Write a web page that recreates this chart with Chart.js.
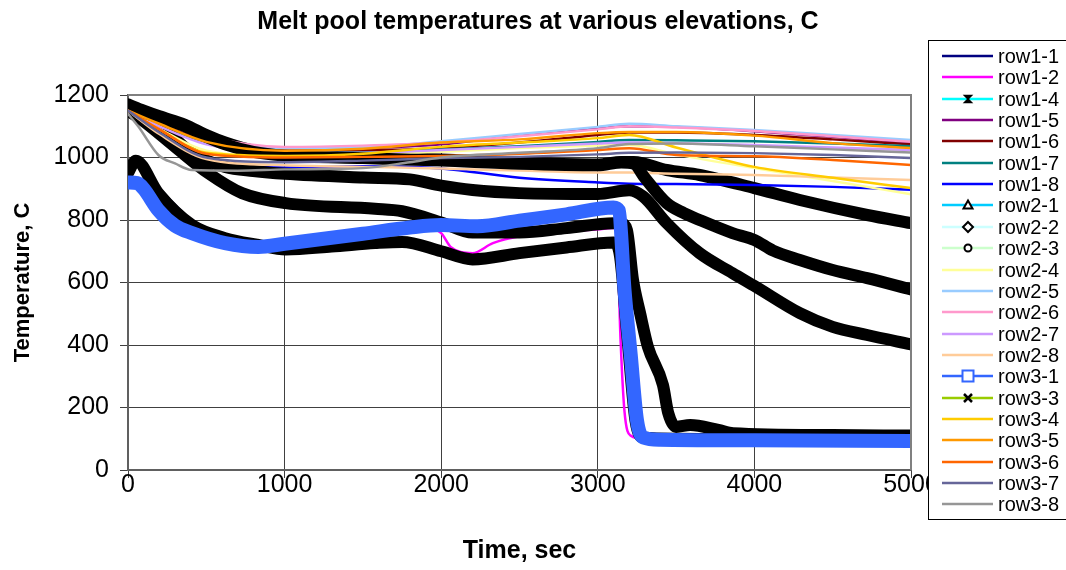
<!DOCTYPE html>
<html><head><meta charset="utf-8">
<script src="https://cdn.jsdelivr.net/npm/chart.js@4.4.1/dist/chart.umd.min.js"></script>
<style>html,body{margin:0;padding:0;background:#fff;}#c{display:block;}</style>
</head><body>
<canvas id="c" width="1066" height="570"></canvas>
<script>
// ---------- DATA ----------
const chartTitle = 'Melt pool temperatures at various elevations, C';
const xTitle = 'Time, sec';
const yTitle = 'Temperature, C';
const xTicks = [0, 1000, 2000, 3000, 4000, 5000];
const yTicks = [0, 200, 400, 600, 800, 1000, 1200];

const tMain = [0, 200, 500, 1000, 1500, 2000, 2500, 3000, 3200, 3500, 4000, 4500, 5000];

const t_row1_1 = [0, 45, 193, 408, 620, 750, 1000, 1500, 1800, 2000, 2200, 2500, 3100, 3140, 3200, 3260, 3400, 5000];
const v_row1_1 = [975, 998, 906, 800, 752, 736, 712, 718, 722, 696, 666, 688, 720, 690, 320, 112, 98, 93];

const t_row1_2 = [0, 100, 300, 600, 1000, 1500, 1900, 2000, 2060, 2200, 2330, 2500, 3000, 3120, 3145, 3170, 3210, 3300, 5000];
const v_row1_2 = [918, 900, 778, 728, 728, 758, 776, 758, 714, 694, 726, 748, 770, 775, 420, 190, 110, 100, 95];

const t_row1_4 = [0, 100, 200, 364, 500, 620, 800, 1000, 1500, 2000, 2500, 3000, 3150, 3230, 3440, 3650, 4000, 4290, 4720, 5000];
const v_row1_4 = [1170, 1150, 1132, 1105, 1072, 1048, 1022, 1010, 1002, 994, 984, 978, 986, 986, 960, 944, 902, 864, 816, 790];

const v_row1_5 = [1155, 1115, 1058, 1028, 1030, 1042, 1072, 1094, 1100, 1098, 1084, 1066, 1048];
const v_row1_6 = [1155, 1112, 1052, 1028, 1024, 1030, 1048, 1072, 1080, 1080, 1072, 1058, 1042];
const v_row1_7 = [1150, 1102, 1046, 1016, 1016, 1026, 1036, 1050, 1056, 1055, 1052, 1045, 1036];
const v_row1_8 = [1150, 1065, 985, 968, 972, 965, 935, 920, 916, 915, 912, 906, 897];

const t_row2_1 = [0, 50, 193, 408, 620, 833, 1007, 1300, 1577, 1750, 2000, 2200, 2500, 2800, 3100, 3140, 3190, 3240, 3290, 3500, 4000, 5000];
const v_row2_1 = [950, 990, 886, 784, 742, 720, 706, 715, 726, 730, 700, 674, 694, 712, 728, 690, 420, 160, 104, 100, 97, 95];

const t_row2_2 = [0, 89, 300, 512, 728, 1007, 1577, 1750, 2000, 2200, 2500, 2800, 3100, 3150, 3186, 3225, 3270, 3320, 3416, 3450, 3500, 3590, 3770, 3864, 4500, 5000];
const v_row2_2 = [1150, 1120, 1034, 950, 886, 854, 836, 828, 792, 760, 760, 774, 790, 790, 768, 608, 502, 394, 272, 182, 138, 144, 128, 118, 112, 110];

const t_row2_3 = [0, 150, 300, 408, 620, 800, 1000, 1500, 1800, 2000, 2200, 2500, 3000, 3200, 3290, 3440, 3650, 3860, 4010, 4290, 4500, 4720, 5000];
const v_row2_3 = [1155, 1128, 1060, 1014, 970, 957, 948, 936, 930, 910, 896, 886, 883, 895, 875, 790, 694, 630, 586, 502, 458, 432, 402];

const v_row2_4 = [1150, 1092, 1022, 1005, 1010, 1018, 1030, 1038, 1040, 1010, 966, 925, 882];
const v_row2_5 = [1160, 1118, 1062, 1030, 1032, 1052, 1075, 1098, 1108, 1100, 1088, 1072, 1056];
const v_row2_6 = [1160, 1122, 1068, 1034, 1038, 1048, 1068, 1090, 1100, 1096, 1085, 1068, 1050];
const v_row2_7 = [1150, 1100, 1042, 1015, 1015, 1024, 1034, 1045, 1048, 1046, 1040, 1032, 1024];
const v_row2_8 = [1150, 1075, 995, 975, 970, 965, 958, 952, 952, 948, 944, 936, 928];

const t_row3_1 = [0, 60, 100, 193, 300, 408, 620, 833, 1000, 1500, 1800, 2000, 2230, 2500, 2800, 3100, 3135, 3170, 3210, 3250, 3290, 3400, 4000, 5000];
const v_row3_1 = [920, 918, 900, 832, 782, 758, 726, 714, 724, 756, 776, 784, 780, 798, 818, 840, 830, 580, 370, 160, 104, 97, 95, 93];

const t_row3_3 = [0, 100, 200, 364, 500, 620, 800, 1000, 1500, 2000, 2500, 3000, 3150, 3230, 3300, 3440, 3550, 3650, 3860, 4000, 4120, 4290, 4500, 4720, 5000];
const v_row3_3 = [1160, 1145, 1128, 1100, 1066, 1042, 1018, 1006, 998, 990, 980, 975, 984, 980, 935, 854, 822, 800, 758, 736, 702, 672, 640, 614, 578];

const v_row3_4 = [1150, 1090, 1015, 1005, 1012, 1034, 1048, 1062, 1072, 1032, 970, 935, 902];
const v_row3_5 = [1150, 1108, 1050, 1022, 1028, 1048, 1058, 1078, 1082, 1082, 1070, 1046, 1030];
const v_row3_6 = [1150, 1090, 1012, 1000, 1002, 1005, 1012, 1024, 1030, 1008, 1004, 992, 976];
const v_row3_7 = [1150, 1080, 1000, 985, 990, 998, 1002, 1010, 1015, 1016, 1014, 1008, 998];
const t_row3_8 = [0, 66, 194, 300, 407, 700, 1000, 1500, 1800, 2000, 2500, 3000, 3200, 3500, 4000, 4500, 5000];
const v_row3_8 = [1140, 1099, 1008, 981, 960, 958, 962, 966, 985, 1000, 1015, 1030, 1043, 1045, 1036, 1026, 1016];

const seriesNames = ['row1-1','row1-2','row1-4','row1-5','row1-6','row1-7','row1-8','row2-1','row2-2','row2-3','row2-4','row2-5','row2-6','row2-7','row2-8','row3-1','row3-3','row3-4','row3-5','row3-6','row3-7','row3-8'];
const seriesTimes = [t_row1_1, t_row1_2, t_row1_4, tMain, tMain, tMain, tMain, t_row2_1, t_row2_2, t_row2_3, tMain, tMain, tMain, tMain, tMain, t_row3_1, t_row3_3, tMain, tMain, tMain, tMain, t_row3_8];
const seriesValues = [v_row1_1, v_row1_2, v_row1_4, v_row1_5, v_row1_6, v_row1_7, v_row1_8, v_row2_1, v_row2_2, v_row2_3, v_row2_4, v_row2_5, v_row2_6, v_row2_7, v_row2_8, v_row3_1, v_row3_3, v_row3_4, v_row3_5, v_row3_6, v_row3_7, v_row3_8];

// ---------- STYLES ----------
const lineColors = ['#000080','#FF00FF','#00FFFF','#800080','#800000','#008080','#0000FF','#00CCFF','#CCFFFF','#CCFFCC','#FFFF99','#99CCFF','#FF99CC','#CC99FF','#FFCC99','#3366FF','#99CC00','#FFCC00','#FF9900','#FF6600','#666699','#969696'];
const markers = [null,null,'star',null,null,null,null,'triangle','diamond','circle',null,null,null,null,null,'square','cross',null,null,null,null,null];
const FONT = "'Liberation Sans', Arial, Helvetica, sans-serif";

const datasets = seriesNames.map((name, i) => {
  const m = markers[i];
  const band = m ? (m === 'square' ? '#3366FF' : '#000000') : lineColors[i];
  const w = m ? (m === 'square' ? 14 : 12) : 2.5;
  return {
    label: name,
    data: seriesTimes[i].map((t, k) => ({x: t, y: seriesValues[i][k]})),
    borderColor: band,
    backgroundColor: band,
    borderWidth: w,
    pointRadius: 0,
    pointHoverRadius: 0,
    cubicInterpolationMode: 'monotone',
    borderJoinStyle: 'round',
    borderCapStyle: 'round',
    fill: false,
    order: seriesNames.length - i
  };
});

function drawMarker(ctx, kind, x, y) {
  ctx.save();
  ctx.lineWidth = 2;
  ctx.strokeStyle = '#000';
  ctx.fillStyle = '#fff';
  ctx.beginPath();
  if (kind === 'star') {
    ctx.fillStyle = '#000';
    ctx.moveTo(x - 3.5, y - 3.5); ctx.lineTo(x + 3.5, y - 3.5);
    ctx.lineTo(x - 3.5, y + 3.5); ctx.lineTo(x + 3.5, y + 3.5); ctx.closePath();
    ctx.fill(); ctx.lineWidth = 1.5; ctx.stroke();
  } else if (kind === 'triangle') {
    ctx.moveTo(x, y - 4.5); ctx.lineTo(x + 4.5, y + 3.5); ctx.lineTo(x - 4.5, y + 3.5); ctx.closePath();
    ctx.fill(); ctx.stroke();
  } else if (kind === 'diamond') {
    ctx.moveTo(x, y - 5); ctx.lineTo(x + 5, y); ctx.lineTo(x, y + 5); ctx.lineTo(x - 5, y); ctx.closePath();
    ctx.fill(); ctx.stroke();
  } else if (kind === 'circle') {
    ctx.arc(x, y, 3.5, 0, Math.PI * 2);
    ctx.fill(); ctx.stroke();
  } else if (kind === 'square') {
    ctx.strokeStyle = '#3366FF';
    ctx.rect(x - 5.5, y - 5.5, 11, 11);
    ctx.fill(); ctx.stroke();
  } else if (kind === 'cross') {
    ctx.lineWidth = 2.5;
    ctx.moveTo(x - 4, y - 4); ctx.lineTo(x + 4, y + 4);
    ctx.moveTo(x + 4, y - 4); ctx.lineTo(x - 4, y + 4);
    ctx.stroke();
  }
  ctx.restore();
}

const frameAndLegend = {
  id: 'frameAndLegend',
  afterDatasetsDraw(chart) {
    const {ctx, chartArea: a} = chart;
    ctx.save();
    ctx.strokeStyle = '#808080';
    ctx.lineWidth = 2;
    ctx.beginPath();
    ctx.moveTo(a.left, a.top); ctx.lineTo(a.right, a.top); ctx.lineTo(a.right, a.bottom);
    ctx.stroke();
    ctx.restore();
  },
  afterDraw(chart) {
    const ctx = chart.ctx;
    ctx.save();
    ctx.fillStyle = '#fff';
    ctx.fillRect(928.5, 40.5, 150, 479);
    ctx.strokeStyle = '#000';
    ctx.lineWidth = 1;
    ctx.strokeRect(928.5, 40.5, 150, 479);
    ctx.font = '20px ' + FONT;
    ctx.textBaseline = 'middle';
    ctx.textAlign = 'left';
    seriesNames.forEach((name, i) => {
      const cy = Math.round(56 + i * 21.35);
      ctx.strokeStyle = lineColors[i];
      ctx.lineWidth = 2.5;
      ctx.beginPath();
      ctx.moveTo(942, cy); ctx.lineTo(993, cy);
      ctx.stroke();
      if (markers[i]) drawMarker(ctx, markers[i], 968, cy);
      ctx.fillStyle = '#000';
      ctx.fillText(name, 998, cy + 1);
    });
    ctx.restore();
  }
};

new Chart(document.getElementById('c'), {
  type: 'line',
  data: { datasets },
  plugins: [frameAndLegend],
  options: {
    responsive: false,
    animation: false,
    devicePixelRatio: 1,
    events: [],
    layout: { padding: { left: 10, right: 0, top: 0, bottom: 0 } },
    plugins: {
      legend: { display: false },
      tooltip: { enabled: false },
      title: {
        display: true, text: chartTitle, color: '#000',
        font: { family: FONT, size: 25, weight: 'bold', lineHeight: 1.2 },
        padding: { top: 7, bottom: 58 }
      }
    },
    scales: {
      x: {
        type: 'linear', min: 0, max: 5000,
        afterBuildTicks(s) { s.ticks = xTicks.map(v => ({value: v})); },
        afterFit(s) { s.height = 100; },
        ticks: { color: '#000', font: { family: FONT, size: 25, lineHeight: 1 }, padding: -5, maxRotation: 0,
                 callback: v => String(v) },
        grid: { color: '#404040', lineWidth: 1, tickLength: 8, drawTicks: true },
        border: { color: '#606060', width: 2 },
        title: { display: true, text: xTitle, color: '#000', font: { family: FONT, size: 25, weight: 'bold', lineHeight: 1.2 }, padding: { top: 0, bottom: 4 } }
      },
      y: {
        type: 'linear', min: 0, max: 1200,
        afterBuildTicks(s) { s.ticks = yTicks.map(v => ({value: v})); },
        afterFit(s) { s.width = 118; },
        ticks: { color: '#000', font: { family: FONT, size: 25, lineHeight: 1 }, padding: 11,
                 callback: v => String(v) },
        grid: { color: '#404040', lineWidth: 1, tickLength: 8, drawTicks: true },
        border: { color: '#606060', width: 2 },
        title: { display: true, text: yTitle, color: '#000', font: { family: FONT, size: 22, weight: 'bold', lineHeight: 1.2 }, padding: { top: 0, bottom: 0 } }
      },
      y2: {
        type: 'linear', position: 'right', min: 0, max: 1, display: true,
        afterFit(s) { s.width = 155; },
        ticks: { display: false },
        grid: { display: false, drawTicks: false },
        border: { display: false }
      }
    }
  }
});
</script>
</body></html>
